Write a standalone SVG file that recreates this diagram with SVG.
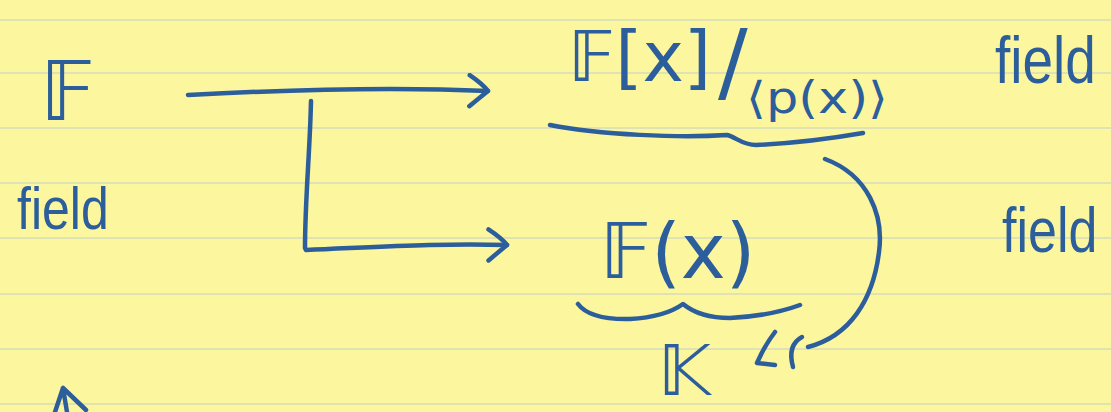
<svg xmlns="http://www.w3.org/2000/svg" width="1111" height="412" viewBox="0 0 1111 412">
  <defs>
    <style>
      .ink { fill: none; stroke: #2c5e9c; stroke-width: 4.5; stroke-linecap: round; stroke-linejoin: round; }
      .rule { stroke: #dfe3b4; stroke-width: 2; }
      .math { font-family: "DejaVu Sans", "Noto Sans", sans-serif; fill: #2c5e9c; }
      .word { font-family: "Liberation Sans", Arial, sans-serif; fill: #2c5e9c; font-variant-ligatures: none; font-feature-settings: "liga" 0; }
    </style>
    <marker id="chev" viewBox="0 0 26 36" refX="22" refY="17" markerWidth="26" markerHeight="36" markerUnits="userSpaceOnUse" orient="auto">
      <path d="M3,2 Q16,10 22,17 Q14,24 4,33" fill="none" stroke="#2c5e9c" stroke-width="4.5" stroke-linecap="round" stroke-linejoin="round"/>
    </marker>
  </defs>

  <!-- legal pad paper -->
  <rect width="1111" height="412" fill="#fcf69e"/>
  <g id="ruling">
    <line class="rule" x1="0" y1="20" x2="1111" y2="20"/>
    <line class="rule" x1="0" y1="73" x2="1111" y2="73"/>
    <line class="rule" x1="0" y1="128" x2="1111" y2="128"/>
    <line class="rule" x1="0" y1="183" x2="1111" y2="183"/>
    <line class="rule" x1="0" y1="238" x2="1111" y2="238"/>
    <line class="rule" x1="0" y1="294" x2="1111" y2="294"/>
    <line class="rule" x1="0" y1="349" x2="1111" y2="349"/>
    <line class="rule" x1="0" y1="404" x2="1111" y2="404"/>
  </g>

  <!-- base field F -->
  <g id="node-F">
    <text class="math" x="40" y="120" font-size="82">𝔽</text>
    <text class="word" transform="translate(17,229) scale(1,1.2)" font-size="50">field</text>
  </g>

  <!-- quotient ring F[x]/<p(x)> -->
  <g id="node-quotient">
    <text class="math" x="568" y="81" font-size="70">𝔽[x]</text>
    <text class="math" x="718" y="92" font-size="88">/</text>
    <text class="math" x="746" y="113" font-size="44" textLength="142" lengthAdjust="spacingAndGlyphs">⟨p(x)⟩</text>
    <path class="ink" d="M550,125 C600,135 680,138 727,135 C736,137 742,145 756,145 C800,143 840,137 863,133"/>
    <text class="word" transform="translate(995,83) scale(1,1.2)" font-size="55">field</text>
  </g>

  <!-- field of rational functions F(x) -->
  <g id="node-Fx">
    <text class="math" x="600" y="278" font-size="76">𝔽(x)</text>
    <path class="ink" d="M578,304 Q590,320 630,319 Q665,317 683,304 Q700,318 730,318 Q770,316 800,305"/>
    <text class="word" transform="translate(1002,252) scale(1,1.2)" font-size="52">field</text>
  </g>

  <!-- K -->
  <g id="node-K">
    <text class="math" x="658" y="395" font-size="70">𝕂</text>
  </g>

  <g id="connectors">
    <!-- F to the quotient -->
    <path class="ink" d="M188,95 C300,89 400,87 488,91" marker-end="url(#chev)"/>
    <!-- F to F(x), routed down and across -->
    <path class="ink" d="M311,101 C310,150 305,200 305,248 L306,250 C380,247 440,243 507,245" marker-end="url(#chev)"/>
    <!-- curved arrow from the quotient round to K -->
    <path class="ink" d="M825,159 C868,175 884,215 879,252 C873,300 850,336 808,347"/>
    <path class="ink" d="M802,337 Q787,345 793,367"/>
    <path class="ink" d="M775,332 Q765,345 757,363 L775,365"/>
    <!-- arrow at the lower-left edge -->
    <path class="ink" d="M63,388 L55,412 M63,388 L86,410 M63,388 L67,412"/>
  </g>
</svg>
